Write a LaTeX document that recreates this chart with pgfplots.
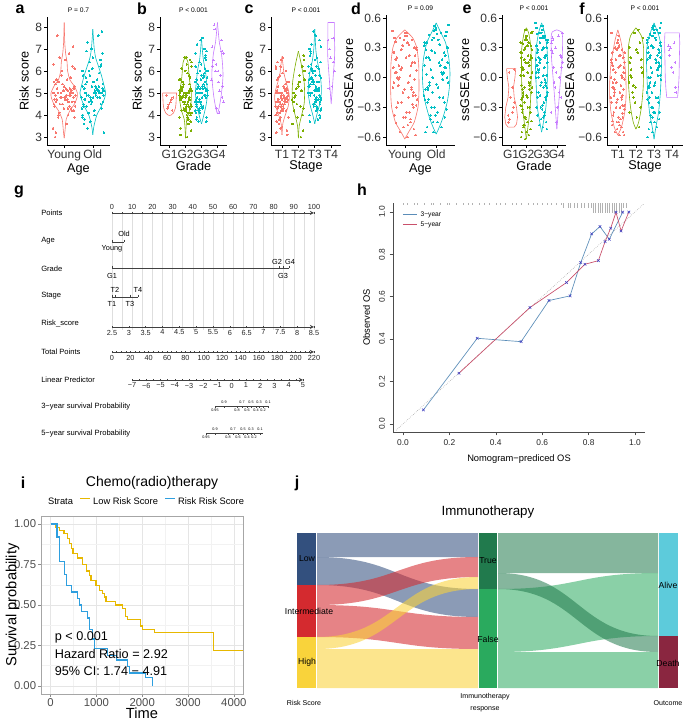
\documentclass[border=0pt]{standalone}
\usepackage{pgfplots}
\pgfplotsset{compat=1.18}
\usepackage{pgfplotstable}
\usepackage{fontspec}
\setmainfont{Liberation Sans}
\newcommand{\fs}[1]{\fontsize{#1}{#1}\selectfont}
\definecolor{cR}{HTML}{F8766D}
\definecolor{cG}{HTML}{7CAE00}
\definecolor{cC}{HTML}{00BFC4}
\definecolor{cP}{HTML}{C77CFF}
\definecolor{kmY}{HTML}{E7B800}
\definecolor{kmB}{HTML}{2E9FDF}
\definecolor{cal3}{HTML}{5B8DB8}
\definecolor{cal5}{HTML}{C9506B}
\definecolor{calX}{HTML}{4040C0}
\definecolor{sLow}{HTML}{33507E}
\definecolor{sInt}{HTML}{D42A2F}
\definecolor{sHigh}{HTML}{F9D33B}
\definecolor{sTrue}{HTML}{217A4D}
\definecolor{sFalse}{HTML}{2AAA5E}
\definecolor{sAlive}{HTML}{5DCBDB}
\definecolor{sDeath}{HTML}{8A2640}
\pgfplotsset{/pgf/number format/assume math mode=true, /pgf/number format/1000 sep={}}
\pgfplotsset{
 vio/.style={scale only axis, anchor=south west, axis x line*=bottom, axis y line*=left,
   axis line style={-, black, line width=0.45pt}, tick align=outside, major tick length=2pt,
   tick style={black, line width=0.45pt}, ticklabel style={font=\fs{9}, text=black!80, inner sep=1.5pt},
   label style={font=\fs{9.5}}, xlabel style={yshift=3pt},
   title style={font=\fs{5}, at={(0.5,1)}, anchor=center, yshift=-1pt}, clip=false},
 vioA/.style={vio, height=96pt, ymin=2.64, ymax=8.45, ytick={3,4,5,6,7,8}, ylabel={Risk score}},
 vioB/.style={vio, height=97.5pt, ymin=-0.68, ymax=0.63, ytick={-0.6,-0.3,0,0.3,0.6}, yticklabels={−0.6,−0.3,0.0,0.3,0.6}, ylabel={ssGSEA score}, ylabel style={yshift=-2pt}},
 nomo/.style={scale only axis, anchor=south west, height=1pt, ymin=0, ymax=1, axis y line=none,
   axis line style={-, black!75, line width=0.4pt}, tick align=outside, major tick length=2pt,
   minor tick length=1.2pt, tick style={black!75, line width=0.35pt},
   ticklabel style={font=\fs{5.5}, text=black!85, inner sep=1pt}},
}
\newcommand{\violin}[3]{%
 \addplot[#2, line width=0.45pt, smooth, tension=0.4, mark=none] table[x expr={#1+\thisrow{w}}, y=y]{#3};
 \addplot[#2, line width=0.45pt, smooth, tension=0.4, mark=none] table[x expr={#1-\thisrow{w}}, y=y]{#3};}
\newcommand{\jitter}[5]{%
 \addplot[#2, only marks, mark=*, mark size=0.6pt, mark options={fill=#2, draw=#2, line width=0pt}] table[x expr={#1+(#4)*\thisrow{dx}}, y=#3]{#5};}
\newcommand{\jitterp}[5]{%
 \addplot[#2, only marks, mark=+, mark size=1pt, mark options={#2, line width=0.3pt}] table[x expr={#1+(#4)*\thisrow{dx}}, y=#3]{#5};}
\newcommand{\flow}[8]{\fill[#8] (axis cs:#1,#3) .. controls (axis cs:#7,#3) and (axis cs:#7,#5) .. (axis cs:#2,#5) -- (axis cs:#2,#6) .. controls (axis cs:#7,#6) and (axis cs:#7,#4) .. (axis cs:#1,#4) -- cycle;}
\begin{document}
\pgfplotstableread{
dx aY aO bGb bGc bGd cTa cTb cTc dY dO eGb eGc eGd fTa fTb fTc
-0.31 4.9 5.0 4.8 5.1 6.2 4.8 5.0 5.3 0.05 0.10 0.00 0.12 0.20 -0.10 0.10 0.12
0.12 5.1 4.6 4.5 4.7 5.1 4.5 4.4 4.8 -0.20 -0.15 -0.25 -0.10 -0.10 -0.30 -0.20 -0.15
0.37 4.6 5.3 5.1 5.5 6.8 5.0 5.6 5.7 0.30 0.35 0.25 0.35 0.35 0.15 0.30 0.35
-0.05 5.4 4.2 4.2 4.3 4.3 4.2 3.9 4.4 -0.40 -0.35 -0.45 -0.30 -0.30 -0.45 -0.40 -0.35
0.24 4.3 5.7 5.4 5.9 7.4 5.3 6.2 6.1 0.15 0.20 0.10 0.22 0.10 0.00 0.00 0.20
-0.38 5.0 4.9 3.9 4.9 5.6 3.9 4.7 5.0 -0.10 -0.05 -0.10 0.00 0.45 -0.20 0.40 -0.02
0.02 4.8 6.1 4.9 6.3 6.0 4.9 5.3 6.5 0.42 0.48 0.40 0.48 -0.45 0.30 -0.10 0.48
0.29 6.2 3.8 5.7 3.9 4.8 5.6 3.3 4.0 -0.52 -0.50 -0.55 -0.45 0.25 -0.55 0.20 -0.52
-0.17 4.1 5.1 4.6 5.3 7.9 4.6 4.9 5.5 0.00 0.05 -0.05 0.08 0.00 -0.15 -0.50 0.08
0.33 5.2 4.5 4.0 4.5 5.3 4.0 6.7 4.6 0.22 0.28 0.20 0.30 0.40 0.10 0.15 0.30
-0.26 4.7 6.5 5.2 6.7 6.5 5.1 4.2 6.9 -0.30 -0.25 -0.35 -0.20 -0.20 -0.38 -0.30 -0.25
0.08 3.6 4.8 6.3 5.0 4.1 6.2 5.5 5.2 0.35 0.40 0.30 0.42 0.30 0.22 0.45 0.42
-0.35 5.5 5.4 4.7 5.7 7.1 4.7 3.6 5.9 -0.05 0.00 -0.15 0.05 0.15 -0.25 0.05 0.02
0.19 4.9 3.4 3.6 3.7 5.8 3.6 5.1 3.8 -0.45 -0.42 -0.50 -0.38 -0.05 -0.50 -0.15 -0.45
-0.09 5.8 5.0 5.0 5.2 6.3 4.9 4.5 5.4 0.10 0.15 0.05 0.18 0.42 -0.05 0.25 0.18
0.38 4.4 4.3 4.4 4.6 4.6 4.4 6.0 4.7 0.28 0.32 0.35 0.38 -0.35 0.25 -0.05 0.38
-0.22 5.0 5.9 5.5 6.1 8.1 5.4 4.8 6.3 -0.25 -0.20 -0.30 -0.15 0.22 -0.35 0.35 -0.20
0.05 6.5 7.0 6.6 7.4 5.5 6.5 5.8 7.6 0.45 0.52 0.48 0.52 0.05 0.42 -0.25 0.52
0.27 4.2 4.7 4.3 4.8 6.9 4.3 4.0 4.9 -0.15 -0.10 -0.20 -0.05 0.38 -0.28 0.08 -0.08
-0.13 4.8 5.2 4.9 5.4 6.0 4.8 5.2 5.6 0.08 0.12 0.15 0.15 -0.15 0.05 0.48 0.15
0.35 5.3 4.0 3.3 4.1 nan 3.2 6.5 4.2 -0.58 -0.55 -0.60 -0.52 0.28 -0.58 -0.35 -0.60
-0.29 3.2 6.3 5.3 6.5 nan 5.2 4.6 6.7 0.18 0.22 0.22 0.25 0.10 0.12 0.18 0.25
0.15 4.6 4.9 4.6 5.0 nan 4.6 3.0 5.1 -0.35 -0.30 -0.40 -0.25 nan -0.42 -0.08 -0.30
-0.02 5.1 5.5 6.0 5.8 nan 5.9 5.4 6.0 0.38 0.44 0.38 0.45 nan 0.35 0.28 0.45
0.31 7.1 3.6 4.1 4.4 nan 4.1 4.3 4.5 -0.02 0.03 -0.08 0.02 nan -0.12 0.02 0.00
-0.36 4.5 4.6 5.1 5.1 nan 5.0 nan 5.3 0.25 0.30 0.28 0.32 nan 0.18 nan 0.32
0.10 5.6 5.8 3.0 6.0 nan 3.4 nan 6.2 -0.48 -0.45 -0.48 -0.40 nan -0.48 nan -0.40
-0.19 4.0 7.6 4.8 7.0 nan 4.7 nan 7.2 0.12 0.18 0.12 0.20 nan -0.02 nan 0.22
0.22 4.9 4.4 5.8 4.6 nan 5.7 nan 4.7 -0.12 -0.08 -0.18 -0.02 nan -0.22 nan -0.05
-0.07 6.0 5.1 4.5 5.3 nan 4.4 nan 5.5 0.32 0.38 0.32 0.40 nan 0.28 nan 0.40
0.36 3.9 6.0 6.4 6.2 nan 6.1 nan 6.4 -0.28 -0.22 -0.28 -0.18 nan -0.32 nan -0.22
-0.25 5.2 4.8 4.2 4.9 nan 4.2 nan 5.0 0.20 0.25 0.18 0.28 nan 0.08 nan 0.28
0.03 4.7 5.3 5.0 5.6 nan 5.0 nan 5.8 -0.40 -0.38 -0.42 -0.32 nan -0.40 nan -0.35
0.17 6.8 4.1 3.8 4.2 nan 3.8 nan 4.3 0.02 0.08 0.02 0.10 nan -0.08 nan 0.10
-0.33 4.4 6.8 5.6 6.9 nan 5.5 nan 7.0 0.40 0.46 0.45 0.50 nan 0.45 nan 0.50
0.26 5.0 5.0 4.7 5.2 nan 4.6 nan 5.2 -0.18 -0.12 -0.12 -0.08 nan -0.18 nan -0.10
}\jit
\pgfplotstableread{
dx a1 a2 b2 b3 c1 c3 d1 d2 e2 e3 f1 f3
0.21 5.0 4.9 4.7 5.0 4.7 5.2 -0.1 -0.05 -0.15 -0.02 -0.2 0.0
-0.34 4.7 5.2 5.0 5.4 5.0 5.6 0.25 0.3 0.2 0.32 0.15 0.35
0.06 5.2 4.5 4.4 4.6 4.4 4.7 -0.35 -0.3 -0.4 -0.28 -0.45 -0.3
-0.15 4.5 5.6 5.3 5.8 5.2 6.0 0.4 0.45 0.35 0.45 0.3 0.48
0.39 4.9 4.8 4.1 4.2 4.0 4.3 -0.22 -0.18 -0.28 -0.15 -0.32 -0.15
-0.27 5.6 6.2 4.8 5.2 4.8 5.4 0.05 0.1 0.0 0.12 -0.05 0.15
0.13 4.3 4.1 5.9 6.4 5.8 6.6 0.33 0.38 0.28 0.4 0.22 0.42
-0.04 5.1 5.0 4.6 4.8 4.5 4.9 -0.5 -0.45 -0.55 -0.42 -0.52 -0.45
0.32 4.8 4.4 3.7 3.8 3.7 3.9 0.15 0.2 0.1 0.22 0.05 0.25
-0.21 3.9 5.3 5.1 5.5 5.1 5.7 -0.08 -0.02 -0.12 0.0 -0.18 0.02
0.0 5.3 6.6 4.3 4.4 4.3 4.5 0.45 0.5 0.42 0.52 0.38 0.52
0.28 4.6 4.7 6.5 7.2 6.4 7.4 -0.3 -0.25 -0.35 -0.22 -0.4 -0.25
-0.37 6.3 5.1 4.9 5.1 4.9 5.3 0.1 0.15 0.05 0.18 0.0 0.2
0.09 4.9 3.7 4.0 4.1 3.9 4.2 -0.6 -0.55 -0.62 -0.5 -0.58 -0.55
-0.11 5.0 4.9 5.4 5.7 5.3 5.9 0.28 0.33 0.22 0.35 0.18 0.38
0.34 4.2 5.8 4.5 4.7 4.6 4.8 -0.18 -0.12 -0.22 -0.1 -0.28 -0.1
-0.3 5.4 4.3 3.4 3.7 3.3 3.7 0.36 0.42 0.32 0.44 0.25 0.45
0.18 4.4 7.3 5.0 5.3 5.0 5.5 -0.42 -0.38 -0.48 -0.35 -0.5 -0.38
-0.24 7.6 5.0 6.1 6.6 6.0 6.8 0.0 0.05 -0.05 0.08 -0.1 0.1
0.04 4.8 4.6 4.2 4.5 4.2 4.6 0.2 0.25 0.15 0.28 0.1 0.3
0.25 5.1 5.4 4.8 5.0 4.7 5.1 -0.27 -0.22 -0.32 -0.2 -0.36 -0.2
-0.39 3.4 3.2 5.6 6.0 5.5 6.2 0.47 0.53 0.46 0.55 0.45 0.55
0.11 4.7 6.4 3.9 4.3 3.8 4.4 -0.05 0.0 -0.1 0.02 -0.15 0.05
-0.16 6.6 4.8 4.6 4.9 4.5 5.0 -0.55 -0.5 -0.58 -0.48 -0.55 -0.5
0.3 5.0 5.2 5.2 5.6 5.1 5.8 0.3 0.35 0.25 0.38 0.2 0.4
-0.06 4.5 4.0 6.6 7.5 6.6 7.8 -0.15 -0.1 -0.2 -0.08 -0.25 -0.05
0.2 5.2 5.5 4.4 4.6 4.4 4.7 0.12 0.18 0.08 0.2 0.02 0.22
-0.32 3.0 7.8 3.1 3.9 3.1 4.0 -0.38 -0.32 -0.44 -0.3 -0.48 -0.35
0.07 4.9 4.7 4.9 5.2 4.8 5.3 0.42 0.47 0.38 0.48 0.32 0.5
-0.2 5.5 5.1 5.5 5.9 5.4 6.1 -0.02 0.03 -0.08 0.05 -0.12 0.08
0.14 4.0 6.0 4.1 4.2 4.1 4.3 0.22 0.27 0.18 0.3 0.12 0.32
-0.28 4.6 4.5 4.7 4.8 4.6 4.9 -0.46 -0.4 -0.52 -0.38 -0.44 -0.42
0.37 6.1 3.9 6.2 6.8 6.2 7.1 0.07 0.12 0.02 0.15 -0.02 0.18
-0.1 4.8 5.3 4.3 4.4 4.3 4.5 -0.25 -0.2 -0.3 -0.18 -0.3 -0.2
0.23 5.7 6.9 5.1 5.4 5.0 5.5 0.38 0.43 0.34 0.42 0.28 0.44
-0.01 4.3 4.8 4.8 5.0 4.7 5.1 -0.12 -0.07 -0.18 -0.05 -0.22 -0.08
}\jitb
\pgfplotstableread{
dx bGa cTd eGa fTd
-0.20 4.9 7.4 -0.38 0.32
0.15 4.2 6.4 -0.30 0.15
0.05 4.6 5.3 -0.10 0.05
-0.10 4.4 7.0 -0.42 0.30
0.20 4.8 6.0 -0.25 -0.15
-0.15 4.3 5.2 0.05 0.22
0.10 4.7 7.5 -0.35 0.35
-0.05 4.5 6.6 -0.20 0.10
0.18 nan nan 0.08 -0.10
-0.18 nan nan -0.45 0.28
}\jits
\pgfplotstableread[row sep=\\]{y w\\ 2.95 0\\ 3.3 0.03\\ 3.8 0.07\\ 4.2 0.2\\ 4.5 0.36\\ 4.8 0.45\\ 5.0 0.46\\ 5.3 0.36\\ 5.6 0.2\\ 6.0 0.12\\ 6.4 0.1\\ 6.8 0.05\\ 7.3 0.02\\ 8.2 0\\}\vaY
\pgfplotstableread[row sep=\\]{y w\\ 3.1 0\\ 3.5 0.04\\ 4.0 0.14\\ 4.4 0.3\\ 4.8 0.42\\ 5.0 0.45\\ 5.4 0.38\\ 5.8 0.3\\ 6.2 0.2\\ 6.6 0.1\\ 7.0 0.05\\ 7.5 0.02\\ 7.9 0\\}\vaO
\pgfplotstableread[row sep=\\]{y w\\ 2.95 0\\ 3.4 0.03\\ 3.8 0.08\\ 4.2 0.25\\ 4.6 0.35\\ 4.9 0.37\\ 5.2 0.33\\ 5.6 0.25\\ 6.0 0.2\\ 6.4 0.15\\ 6.65 0\\}\vbGb
\pgfplotstableread[row sep=\\]{y w\\ 3.6 0\\ 4.0 0.15\\ 4.5 0.3\\ 5.0 0.38\\ 5.5 0.32\\ 6.0 0.25\\ 6.5 0.12\\ 7.0 0.05\\ 7.5 0\\}\vbGc
\pgfplotstableread[row sep=\\]{y w\\ 4.05 0\\ 4.3 0.1\\ 4.8 0.22\\ 5.3 0.3\\ 5.8 0.35\\ 6.3 0.32\\ 6.8 0.25\\ 7.3 0.12\\ 7.8 0.05\\ 8.2 0\\}\vbGd
\pgfplotstableread[row sep=\\]{y w\\ 3.1 0\\ 3.6 0.05\\ 4.0 0.2\\ 4.4 0.38\\ 4.8 0.45\\ 5.1 0.4\\ 5.5 0.25\\ 5.9 0.12\\ 6.3 0.06\\ 6.65 0\\}\vcTa
\pgfplotstableread[row sep=\\]{y w\\ 2.95 0\\ 3.5 0.05\\ 4.0 0.2\\ 4.5 0.35\\ 5.0 0.38\\ 5.5 0.35\\ 6.0 0.25\\ 6.4 0.15\\ 6.9 0\\}\vcTb
\pgfplotstableread[row sep=\\]{y w\\ 3.6 0\\ 4.0 0.12\\ 4.5 0.3\\ 5.0 0.4\\ 5.5 0.38\\ 6.0 0.28\\ 6.5 0.14\\ 7.0 0.06\\ 7.9 0\\}\vcTc
\pgfplotstableread[row sep=\\]{y w\\ -0.62 0\\ -0.55 0.12\\ -0.45 0.3\\ -0.3 0.42\\ -0.15 0.45\\ 0.0 0.45\\ 0.15 0.44\\ 0.3 0.38\\ 0.4 0.25\\ 0.48 0\\}\vdY
\pgfplotstableread[row sep=\\]{y w\\ -0.57 0\\ -0.5 0.1\\ -0.4 0.22\\ -0.25 0.35\\ -0.1 0.42\\ 0.05 0.44\\ 0.2 0.4\\ 0.35 0.3\\ 0.45 0.15\\ 0.55 0\\}\vdO
\pgfplotstableread[row sep=\\]{y w\\ -0.62 0\\ -0.5 0.1\\ -0.3 0.25\\ -0.1 0.3\\ 0.1 0.32\\ 0.3 0.3\\ 0.45 0.15\\ 0.5 0\\}\veGb
\pgfplotstableread[row sep=\\]{y w\\ -0.55 0\\ -0.45 0.12\\ -0.3 0.28\\ -0.1 0.35\\ 0.1 0.4\\ 0.3 0.35\\ 0.45 0.2\\ 0.55 0\\}\veGc
\pgfplotstableread[row sep=\\]{y w\\ -0.52 0\\ -0.4 0.06\\ -0.2 0.15\\ 0.0 0.25\\ 0.2 0.35\\ 0.4 0.38\\ 0.46 0.3\\ 0.48 0\\}\veGd
\pgfplotstableread[row sep=\\]{y w\\ -0.58 0\\ -0.5 0.2\\ -0.35 0.38\\ -0.2 0.45\\ -0.05 0.45\\ 0.1 0.4\\ 0.25 0.28\\ 0.38 0.15\\ 0.48 0\\}\vfTa
\pgfplotstableread[row sep=\\]{y w\\ -0.52 0\\ -0.45 0.15\\ -0.3 0.3\\ -0.1 0.4\\ 0.1 0.42\\ 0.3 0.42\\ 0.42 0.3\\ 0.5 0\\}\vfTb
\pgfplotstableread[row sep=\\]{y w\\ -0.62 0\\ -0.5 0.1\\ -0.35 0.25\\ -0.15 0.35\\ 0.05 0.4\\ 0.25 0.42\\ 0.4 0.3\\ 0.55 0\\}\vfTc
\begin{tikzpicture}
\useasboundingbox (0,0) rectangle (513pt,543.75pt);
% ---------- panel letters ----------
\begin{scope}[every node/.style={font=\fs{12}\bfseries}]
\node at (15pt,537pt) {a};
\node at (106.5pt,537pt) {b};
\node at (186.75pt,537pt) {c};
\node at (267pt,537pt) {d};
\node at (350.25pt,537pt) {e};
\node at (436.5pt,537pt) {f};
\node at (14.25pt,399.75pt) {g};
\node at (271.5pt,401.25pt) {h};
\node at (17.25pt,181.5pt) {i};
\node at (222.75pt,181.5pt) {j};
\end{scope}
% ---------- a ----------
\begin{axis}[vioA, at={(35.25pt,435pt)}, width=47.25pt, xmin=0.4, xmax=2.6, xtick={1,2}, xticklabels={Young,Old}, xlabel={Age}, title={P = 0.7}]
\violin{1}{cR}{\vaY}\violin{2}{cC}{\vaO}
\jitter{1}{cR}{aY}{1}{\jit}\jitter{2}{cC}{aO}{-1}{\jit}
\jitter{1}{cR}{a1}{1}{\jitb}\jitter{2}{cC}{a2}{-1}{\jitb}
\end{axis}
% ---------- b ----------
\begin{axis}[vioA, at={(120pt,435pt)}, width=50.25pt, xmin=0.4, xmax=4.6, xtick={1,2,3,4}, xticklabels={G1,G2,G3,G4}, xlabel={Grade}, title={P < 0.001}]
\addplot[cR, line width=0.45pt] coordinates {(0.56,5.0)(1.44,5.0)(1.42,4.8)(1.4,4.5)(1.36,4.3)(1.25,4.1)(1.1,4.0)(1,3.98)(0.9,4.0)(0.75,4.1)(0.64,4.3)(0.6,4.5)(0.58,4.8)(0.56,5.0)};
\violin{2}{cG}{\vbGb}\violin{3}{cC}{\vbGc}\violin{4}{cP}{\vbGd}
\jitterp{1}{cR}{bGa}{1}{\jits}
\jitter{2}{cG}{bGb}{1}{\jit}\jitter{3}{cC}{bGc}{-1}{\jit}\jitterp{4}{cP}{bGd}{1}{\jit}
\jitter{2}{cG}{b2}{1}{\jitb}\jitter{3}{cC}{b3}{-1}{\jitb}
\end{axis}
% ---------- c ----------
\begin{axis}[vioA, at={(203.25pt,435pt)}, width=52.5pt, xmin=0.33, xmax=4.6, xtick={1,2,3,4}, xticklabels={T1,T2,T3,T4}, xlabel={Stage}, title={P < 0.001}]
\violin{1}{cR}{\vcTa}\violin{2}{cG}{\vcTb}\violin{3}{cC}{\vcTc}
\addplot[cP, line width=0.45pt] coordinates {(3.8,8.2)(4.2,8.2)(4.2,7.5)(4.22,7.0)(4.2,6.5)(4.15,6.0)(4.1,5.5)(4.05,5.0)(4.0,4.5)(3.95,5.0)(3.9,5.5)(3.85,6.0)(3.8,6.5)(3.78,7.0)(3.8,7.5)(3.8,8.2)};
\jitter{1}{cR}{cTa}{-1}{\jit}\jitter{2}{cG}{cTb}{1}{\jit}\jitter{3}{cC}{cTc}{1}{\jit}
\jitter{1}{cR}{c1}{-1}{\jitb}\jitter{3}{cC}{c3}{1}{\jitb}
\jitterp{4}{cP}{cTd}{1}{\jits}
\end{axis}
% ---------- d ----------
\begin{axis}[vioB, at={(289.5pt,435pt)}, width=51.75pt, xmin=0.4, xmax=2.6, xtick={1,2}, xticklabels={Young,Old}, xlabel={Age}, title={P = 0.09}]
\violin{1}{cR}{\vdY}\violin{2}{cC}{\vdO}
\jitter{1}{cR}{dY}{1}{\jit}\jitter{2}{cC}{dO}{-1}{\jit}
\jitter{1}{cR}{d1}{1}{\jitb}\jitter{2}{cC}{d2}{-1}{\jitb}
\end{axis}
% ---------- e ----------
\begin{axis}[vioB, at={(376.5pt,435pt)}, width=48pt, xmin=0.4, xmax=4.6, xtick={1,2,3,4}, xticklabels={G1,G2,G3,G4}, xlabel={Grade}, title={P < 0.001}]
\addplot[cR, line width=0.45pt] coordinates {(0.7,0.09)(1.3,0.09)(1.25,0.0)(1.15,-0.1)(1.2,-0.2)(1.35,-0.3)(1.42,-0.4)(1.35,-0.47)(1.2,-0.5)(0.8,-0.5)(0.65,-0.47)(0.58,-0.4)(0.65,-0.3)(0.8,-0.2)(0.85,-0.1)(0.75,0.0)(0.7,0.09)};
\violin{2}{cG}{\veGb}\violin{3}{cC}{\veGc}\violin{4}{cP}{\veGd}
\jitterp{1}{cR}{eGa}{1}{\jits}
\jitter{2}{cG}{eGb}{-1}{\jit}\jitter{3}{cC}{eGc}{1}{\jit}\jitterp{4}{cP}{eGd}{-1}{\jit}
\jitter{2}{cG}{e2}{-1}{\jitb}\jitter{3}{cC}{e3}{1}{\jitb}
\end{axis}
% ---------- f ----------
\begin{axis}[vioB, at={(455.25pt,435pt)}, width=57pt, xmin=0.4, xmax=4.6, xtick={1,2,3,4}, xticklabels={T1,T2,T3,T4}, xlabel={Stage}, title={P < 0.001}]
\violin{1}{cR}{\vfTa}\violin{2}{cG}{\vfTb}\violin{3}{cC}{\vfTc}
\addplot[cP, line width=0.45pt] coordinates {(3.6,0.45)(4.4,0.45)(4.42,0.35)(4.4,0.2)(4.38,0.0)(4.35,-0.1)(4.3,-0.2)(3.7,-0.2)(3.65,-0.1)(3.62,0.0)(3.6,0.2)(3.58,0.35)(3.6,0.45)};
\jitter{1}{cR}{fTa}{1}{\jit}\jitter{2}{cG}{fTb}{-1}{\jit}\jitter{3}{cC}{fTc}{-1}{\jit}
\jitter{1}{cR}{f1}{1}{\jitb}\jitter{3}{cC}{f3}{-1}{\jitb}
\jitterp{4}{cP}{fTd}{1}{\jits}
\end{axis}
% ---------- g : nomogram ----------
\begin{axis}[scale only axis, anchor=south west, at={(84pt,296.25pt)}, width=151.5pt, height=87.75pt,
  xmin=0, xmax=100, ymin=0, ymax=1, xtick={0,5,...,100}, ytick=\empty, xticklabels={},
  xmajorgrids, major grid style={black!13, line width=0.35pt}, axis line style={draw=none}, major tick length=0pt]
\addplot[draw=none] coordinates {(0,0.5)};
\end{axis}
\begin{axis}[nomo, at={(84pt,383pt)}, width=151.5pt, xmin=0, xmax=100, xtick={0,10,...,100}, minor x tick num=1, axis x line=top]
\addplot[draw=none] coordinates {(0,0.5)};
\end{axis}
\begin{axis}[nomo, at={(84pt,298.5pt)}, width=151.5pt, xmin=2.5, xmax=8.5, xtick={2.5,3,...,8.5}, axis x line=bottom]
\addplot[draw=none] coordinates {(3,0.5)};
\end{axis}
\begin{axis}[nomo, at={(84pt,279.75pt)}, width=151.5pt, xmin=0, xmax=220, xtick={0,20,...,220}, minor x tick num=3, axis x line=bottom]
\addplot[draw=none] coordinates {(0,0.5)};
\end{axis}
\begin{axis}[nomo, at={(99pt,258.75pt)}, width=128.25pt, xmin=-7, xmax=5, xtick={-7,-6,...,5}, xticklabels={−7,−6,−5,−4,−3,−2,−1,0,1,2,3,4,5}, minor x tick num=1, axis x line=bottom]
\addplot[draw=none] coordinates {(0,0.5)};
\end{axis}
\begin{axis}[scale only axis, anchor=south west, at={(0pt,210pt)}, width=255pt, height=183.75pt,
  xmin=0, xmax=340, ymin=200, ymax=445, y dir=reverse, hide axis, clip=false]
\begin{scope}[every node/.style={anchor=west, font=\fs{5.7}, inner sep=0pt}]
\node at (41,213) {Points};
\node at (41,241) {Age};
\node at (41,269) {Grade};
\node at (41,296) {Stage};
\node at (41,324) {Risk\_score};
\node at (41,352) {Total Points};
\node at (41,380) {Linear Predictor};
\node at (41,407) {3−year survival Probability};
\node at (41,434) {5−year survival Probability};
\end{scope}
\addplot[black!75, line width=0.4pt] coordinates {(112,242)(124,242)};
\addplot[black!75, only marks, mark=|, mark size=1pt] coordinates {(112,241)(124,241)};
\addplot[black!75, line width=0.4pt] coordinates {(112,268)(289,268)};
\addplot[black!75, only marks, mark=|, mark size=1pt] coordinates {(112,267)(279,267)(283,267)(289,267)};
\addplot[black!75, line width=0.4pt] coordinates {(112,297)(138,297)};
\addplot[black!75, only marks, mark=|, mark size=1pt] coordinates {(112,296)(115,296)(130,296)(138,296)};
\begin{scope}[every node/.style={font=\fs{5.5}, inner sep=0pt}]
\node at (124,234) {Old};
\node at (112,249) {Young};
\node at (112,276) {G1};
\node at (277,262) {G2};
\node at (290,262) {G4};
\node at (283,276) {G3};
\node at (115,290) {T2};
\node at (138,290) {T4};
\node at (112,304) {T1};
\node at (130,304) {T3};
\end{scope}
\addplot[black!75, line width=0.35pt] coordinates {(215,406)(268,406)};
\addplot[black!75, only marks, mark=|, mark size=0.7pt] coordinates {(215,407)(224,407)(237,407)(242,407)(247,407)(251,407)(256,407)(259,407)(263,407)(268,407)};
\addplot[black!75, line width=0.35pt] coordinates {(206,433)(263,433)};
\addplot[black!75, only marks, mark=|, mark size=0.7pt] coordinates {(206,434)(215,434)(228,434)(233,434)(238,434)(243,434)(247,434)(251,434)(254,434)(260,434)};
\begin{scope}[every node/.style={font=\fs{2.8}, inner sep=0pt}]
\node at (224,402) {0.9}; \node at (242,402) {0.7}; \node at (251,402) {0.5}; \node at (259,402) {0.3}; \node at (268,402) {0.1};
\node at (215,410.5) {0.95}; \node at (237,410.5) {0.8}; \node at (247,410.5) {0.6}; \node at (256,410.5) {0.4}; \node at (263,410.5) {0.2};
\node at (215,429) {0.9}; \node at (233,429) {0.7}; \node at (243,429) {0.5}; \node at (251,429) {0.3}; \node at (260,429) {0.1};
\node at (206,437.5) {0.95}; \node at (228,437.5) {0.8}; \node at (238,437.5) {0.6}; \node at (247,437.5) {0.4}; \node at (254,437.5) {0.2};
\end{scope}
\end{axis}
% ---------- h : calibration ----------
\begin{axis}[scale only axis, anchor=south west, at={(294.75pt,219.75pt)}, width=189pt, height=171.75pt,
  xmin=-0.043, xmax=1.043, ymin=-0.038, ymax=1.042, axis x line*=bottom, axis y line*=left,
  axis line style={-, black!70, line width=0.4pt}, tick align=outside, major tick length=2.5pt,
  tick style={black!70, line width=0.4pt},
  xtick={0,0.2,0.4,0.6,0.8,1}, xticklabels={0.0,0.2,0.4,0.6,0.8,1.0},
  ytick={0,0.2,0.4,0.6,0.8,1}, yticklabels={0.0,0.2,0.4,0.6,0.8,1.0},
  ticklabel style={font=\fs{6.3}, text=black!85}, yticklabel style={rotate=90, anchor=south},
  xlabel={Nomogram−prediced OS}, ylabel={Observed OS}, label style={font=\fs{7}},
  legend style={at={(0.02,0.987)}, anchor=north west, draw=none, fill=none, font=\fs{5}, row sep=-1.5pt},
  legend image code/.code={\draw[#1] (0pt,0pt) -- (11pt,0pt);}, clip=false]
\addlegendimage{cal3, line width=0.7pt}\addlegendentry{3−year}
\addlegendimage{cal5, line width=0.7pt}\addlegendentry{5−year}
\addplot[forget plot, gray!60, only marks, mark=|, mark size=0.75pt, mark options={line width=0.3pt}] coordinates {(0.0,1.037)(0.02,1.037)(0.05,1.037)(0.06,1.037)(0.09,1.037)(0.12,1.037)(0.13,1.037)(0.16,1.037)(0.19,1.037)(0.2,1.037)(0.23,1.037)(0.26,1.037)(0.28,1.037)(0.3,1.037)(0.33,1.037)(0.35,1.037)(0.37,1.037)(0.4,1.037)(0.42,1.037)(0.44,1.037)(0.47,1.037)(0.49,1.037)(0.51,1.037)(0.54,1.037)(0.56,1.037)(0.58,1.037)(0.6,1.037)(0.62,1.037)(0.64,1.037)(0.66,1.037)(0.68,1.037)};
\addplot[forget plot, gray!60, only marks, mark=|, mark size=1.9pt, mark options={line width=0.3pt}] coordinates {(0.69,1.030)(0.71,1.030)(0.72,1.030)(0.74,1.030)(0.75,1.030)(0.77,1.030)(0.78,1.030)(0.8,1.030)(0.81,1.030)(0.95,1.030)(0.96,1.030)};
\addplot[forget plot, gray!60, only marks, mark=|, mark size=3.7pt, mark options={line width=0.3pt}] coordinates {(0.82,1.0185)(0.83,1.0185)(0.84,1.0185)(0.85,1.0185)(0.86,1.0185)(0.87,1.0185)(0.88,1.0185)(0.89,1.0185)(0.9,1.0185)(0.91,1.0185)(0.92,1.0185)(0.93,1.0185)(0.94,1.0185)};
\addplot[forget plot, gray!70, densely dotted, line width=0.45pt] coordinates {(-0.03,-0.03)(1.04,1.04)};
\addplot[forget plot, cal3, line width=0.5pt, mark=x, mark size=1.4pt, mark options={calX, line width=0.4pt}] coordinates {(0.088,0.066)(0.32,0.404)(0.509,0.388)(0.629,0.582)(0.72,0.604)(0.766,0.761)(0.813,0.896)(0.849,0.931)(0.889,0.871)(0.947,0.999)};
\addplot[forget plot, cal5, line width=0.5pt, mark=x, mark size=1.4pt, mark options={calX, line width=0.4pt}] coordinates {(0.241,0.239)(0.547,0.549)(0.705,0.667)(0.784,0.753)(0.842,0.770)(0.871,0.86)(0.895,0.923)(0.918,0.998)(0.94,0.91)(0.973,0.999)};
\end{axis}
% ---------- i : KM ----------
\begin{axis}[scale only axis, anchor=south west, at={(30.75pt,23.25pt)}, width=151.5pt, height=133.5pt,
  xmin=-210, xmax=4200, ymin=-0.05, ymax=1.05,
  axis line style={black!35, line width=0.5pt},
  xtick={0,1000,2000,3000,4000}, ytick={0,0.25,0.5,0.75,1}, yticklabels={0.00,0.25,0.50,0.75,1.00},
  minor xtick={500,1500,2500,3500}, minor ytick={0.125,0.375,0.625,0.875},
  grid=both, major grid style={black!10, line width=0.5pt}, minor grid style={black!5, line width=0.3pt},
  tick align=outside, major tick length=2pt, minor tick length=0pt, tick pos=left, tick style={black!45},
  ticklabel style={font=\fs{8.5}, text=black!70, inner sep=1.5pt},
  xlabel={Time}, xlabel style={font=\fs{11}, yshift=4pt}, ylabel={Survival probability}, ylabel style={font=\fs{11}, yshift=-9pt},
  title={Chemo(radio)therapy}, title style={font=\fs{10.5}, at={(0.55,1)}, anchor=center, yshift=18.75pt},
  legend style={at={(0.52,1.08)}, anchor=center, draw=none, fill=none, legend columns=-1, font=\fs{7},
    /tikz/every even column/.append style={column sep=3pt}, inner sep=0pt}, clip=false]
\addlegendimage{empty legend}\addlegendentry{Strata}
\addlegendimage{legend image code/.code={\draw[kmY, line width=1.1pt] (0pt,0.5ex) -- (7pt,0.5ex);}}\addlegendentry{Low Risk Score}
\addlegendimage{legend image code/.code={\draw[kmB, line width=1.1pt] (0pt,0.5ex) -- (7pt,0.5ex);}}\addlegendentry{Risk Risk Score}
\addplot[forget plot, kmY, line width=0.9pt, const plot] coordinates {(0,1)(110,0.98)(200,0.96)(290,0.94)(360,0.91)(420,0.88)(450,0.85)(490,0.82)(590,0.79)(700,0.75)(790,0.71)(850,0.68)(880,0.65)(990,0.62)(1060,0.59)(1130,0.57)(1170,0.55)(1210,0.52)(1420,0.50)(1570,0.48)(1640,0.43)(1680,0.41)(1970,0.37)(2000,0.35)(2260,0.33)(3550,0.22)(4200,0.22)};
\addplot[forget plot, kmB, line width=0.9pt, const plot] coordinates {(0,1)(140,0.92)(200,0.77)(300,0.69)(340,0.62)(450,0.58)(590,0.54)(630,0.50)(670,0.46)(810,0.42)(850,0.35)(920,0.29)(960,0.23)(1250,0.19)(1430,0.16)(1680,0.12)(1720,0.08)(2080,0.05)(2230,0.0)};
\begin{scope}[every node/.style={anchor=west, font=\fs{9.5}, inner sep=0pt}]
\node at (87,0.30) {p < 0.001};
\node at (87,0.195) {Hazard Ratio = 2.92};
\node at (87,0.09) {95\% CI: 1.74 − 4.91};
\end{scope}
\end{axis}
% ---------- j : sankey ----------
\begin{axis}[scale only axis, anchor=south west, at={(202.5pt,3.75pt)}, width=310.5pt, height=165pt,
  xmin=270, xmax=684, ymin=500, ymax=720, y dir=reverse, hide axis, clip=false]
\flow{317}{478}{533}{557}{533}{557}{397.5}{sLow, fill opacity=0.57}
\flow{317}{478}{557}{585}{589}{617}{397.5}{sLow, fill opacity=0.57}
\flow{317}{478}{585}{605}{557}{577}{397.5}{sInt, fill opacity=0.58}
\flow{317}{478}{605}{637}{617}{649}{397.5}{sInt, fill opacity=0.58}
\flow{317}{478}{637}{649}{577}{589}{397.5}{sHigh, fill opacity=0.58}
\flow{317}{478}{649}{688}{649}{688}{397.5}{sHigh, fill opacity=0.58}
\flow{498}{658}{533}{573}{533}{573}{578}{sTrue, fill opacity=0.55}
\flow{498}{658}{589}{652}{573}{636}{578}{sFalse, fill opacity=0.55}
\flow{498}{658}{573}{589}{636}{652}{578}{sTrue, fill opacity=0.55}
\flow{498}{658}{652}{688}{652}{688}{578}{sFalse, fill opacity=0.55}
\addplot[fill=sLow, draw=none] coordinates {(297,533)(316,533)(316,585)(297,585)};
\addplot[fill=sInt, draw=none] coordinates {(297,585)(316,585)(316,637)(297,637)};
\addplot[fill=sHigh, draw=none] coordinates {(297,637)(316,637)(316,688)(297,688)};
\addplot[fill=sTrue, draw=none] coordinates {(479,533)(497,533)(497,589)(479,589)};
\addplot[fill=sFalse, draw=none] coordinates {(479,589)(497,589)(497,688)(479,688)};
\addplot[fill=sAlive, draw=none] coordinates {(659,533)(678,533)(678,636)(659,636)};
\addplot[fill=sDeath, draw=none] coordinates {(659,636)(678,636)(678,688)(659,688)};
\node[font=\fs{10}] at (488,512) {Immunotherapy};
\begin{scope}[every node/.style={font=\fs{6.5}, inner sep=0pt}]
\node at (307,559) {Low};
\node at (309,611) {Intermediate};
\node at (307,662) {High};
\node at (488,561) {True};
\node at (488,639) {False};
\node at (668,585) {Alive};
\node at (668,663) {Death};
\end{scope}
\begin{scope}[every node/.style={font=\fs{5.3}, inner sep=0pt}]
\node at (304,703) {Risk Score};
\node at (485,697) {Immunotherapy};
\node at (485,709) {response};
\node at (668,703) {Outcome};
\end{scope}
\end{axis}
\end{tikzpicture}
\end{document}
